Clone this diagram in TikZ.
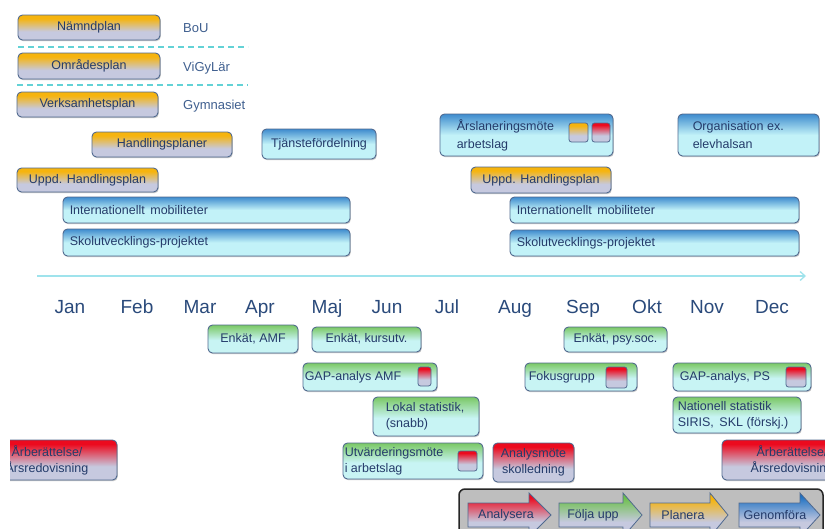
\documentclass[tikz,border=0pt]{standalone}
\usepackage{fontspec}
\setmainfont{Liberation Sans}
\usetikzlibrary{shadows,arrows.meta}
\definecolor{orng}{HTML}{F6B40E}
\definecolor{lav}{HTML}{C6C9DF}
\definecolor{blu}{HTML}{1A6FC2}
\definecolor{cyn}{HTML}{C2F2F8}
\definecolor{grn}{HTML}{6CC04A}
\definecolor{cyg}{HTML}{C8F4F4}
\definecolor{rd}{HTML}{EC0A1E}
\definecolor{bd}{HTML}{50698F}
\definecolor{tx}{HTML}{243B6A}
\definecolor{mtx}{HTML}{2A4A7B}
\definecolor{stx}{HTML}{3F5F8F}
\definecolor{dsh}{HTML}{63D2D6}
\definecolor{tline}{HTML}{9FE3EC}
\definecolor{leggray}{HTML}{BEBEBE}
\pgfdeclareverticalshading{shO}{100bp}{color(0bp)=(lav); color(42bp)=(lav); color(68bp)=(orng); color(100bp)=(orng)}
\pgfdeclareverticalshading{shB}{100bp}{color(0bp)=(cyn); color(50bp)=(cyn); color(82bp)=(blu); color(100bp)=(blu)}
\pgfdeclareverticalshading{shG}{100bp}{color(0bp)=(cyg); color(48bp)=(cyg); color(80bp)=(grn); color(100bp)=(grn)}
\pgfdeclareverticalshading{shR}{100bp}{color(0bp)=(lav); color(42bp)=(lav); color(70bp)=(rd); color(100bp)=(rd)}
\pgfdeclareverticalshading{shGL}{100bp}{color(0bp)=(lav); color(42bp)=(lav); color(70bp)=(grn); color(100bp)=(grn)}
\pgfdeclareverticalshading{shBL}{100bp}{color(0bp)=(lav); color(42bp)=(lav); color(72bp)=(blu); color(100bp)=(blu)}
\newcommand\fs{\fontsize{12.5}{16}\selectfont}
\newcommand\bx[8][]{\node[#2, minimum width={(#6)-(#4)}, minimum height={(#7)-(#5)}, #1] (#3) at ({((#4)+(#6))/2},{((#5)+(#7))/2}) {#8};}
\newcommand\larr[5]{\shade[legarr, shading=#4] (#5-a) -- (#2,503) -- (#2,493) -- (#3,515) -- (#2,537) -- (#2,527) -- (#1,527) -- cycle;}
\begin{document}
\begin{tikzpicture}[x=1pt,y=-1pt,
  box/.style={rounded corners=4.5pt, draw=bd, line width=0.9pt, shade, font=\fs, text=tx, inner sep=0pt, align=center,
     drop shadow={shadow xshift=0.8pt, shadow yshift=-1.2pt, opacity=0.3, fill=black!70}},
  obox/.style={box, shading=shO},
  bbox/.style={box, shading=shB},
  gbox/.style={box, shading=shG},
  rbox/.style={box, shading=shR},
  sq/.style={rounded corners=2.5pt, draw=bd, line width=0.8pt, shade, inner sep=0pt},
  txt/.style={font=\fs, text=tx, inner sep=0pt, align=left, anchor=west},
  side/.style={font=\fontsize{13}{15}\selectfont, text=stx, inner sep=0pt, anchor=base west},
  mon/.style={font=\fontsize{19}{22}\selectfont, text=mtx, inner sep=0pt, anchor=base},
  dashln/.style={draw=dsh, line width=1.6pt, dash pattern=on 6pt off 4pt},
  legarr/.style={draw=bd, line width=0.8pt},
  legtxt/.style={font=\fs, text=tx, inner sep=0pt}]
\useasboundingbox (0,0) rectangle (825,528);
\fill[white] (0,0) rectangle (825,528);

% top planning boxes
\bx{obox}{namnd}{18}{15}{160}{40}{Nämndplan}
\bx{obox}{omrade}{18}{53}{160}{79}{Områdesplan}
\bx{obox}{verks}{17}{92}{158}{117}{Verksamhetsplan}
\bx{obox}{handl}{92}{132}{232}{157}{Handlingsplaner}
\bx{obox}{uppd1}{17}{168}{158}{192}{Uppd. Handlingsplan}
\node[side] (bou) at (183,32) {BoU};
\node[side] (vigy) at (183,71) {ViGyLär};
\node[side] (gymn) at (183,109) {Gymnasiet};
\coordinate (d1a) at (18,47); \coordinate (d1b) at (248,47);
\coordinate (d2a) at (17,85); \coordinate (d2b) at (248,85);
\draw[dashln] (d1a) -- (d1b);
\draw[dashln] (d2a) -- (d2b);

\bx{bbox}{tjanst}{262}{129}{376}{159}{Tjänstefördelning}
\bx{bbox}{intl1}{63}{197}{350}{223}{}
\node[txt] (intl1t) at ([xshift=7pt]intl1.west) {Internationellt\, mobiliteter};
\bx{bbox}{skol1}{63}{229}{350}{256}{}
\node[txt] (skol1t) at ([xshift=7pt]skol1.west) {Skolutvecklings-projektet};

\bx{bbox}{arsl}{440}{114}{613}{156}{}
\node[txt, font=\fontsize{12.5}{18}\selectfont] (arslt) at ([xshift=17pt]arsl.west) {Årslaneringsmöte\\arbetslag};
\bx[shading=shO]{sq}{arslo}{569}{123}{588}{142}{}
\bx[shading=shR]{sq}{arslr}{592}{123}{610}{142}{}
\bx{bbox}{org}{678}{114}{819}{156}{}
\node[txt, font=\fontsize{12.5}{18}\selectfont] (orgt) at ([xshift=15pt]org.west) {Organisation ex.\\elevhalsan};
\bx{obox}{uppd2}{471}{167}{611}{193}{Uppd. Handlingsplan}
\bx{bbox}{intl2}{510}{197}{799}{223}{}
\node[txt] (intl2t) at ([xshift=7pt]intl2.west) {Internationellt\, mobiliteter};
\bx{bbox}{skol2}{510}{230}{799}{256}{}
\node[txt] (skol2t) at ([xshift=7pt]skol2.west) {Skolutvecklings-projektet};

% timeline
\coordinate (tls) at (37,276); \coordinate (tle) at (806,276);
\draw[draw=tline, line width=1.3pt, -{Straight Barb[length=5pt,width=9pt]}] (tls) -- (tle);
\node[mon] (jan) at (70,313) {Jan};
\node[mon] (feb) at (137,313) {Feb};
\node[mon] (mar) at (200,313) {Mar};
\node[mon] (apr) at (260,313) {Apr};
\node[mon] (maj) at (327,313) {Maj};
\node[mon] (jun) at (387,313) {Jun};
\node[mon] (jul) at (447,313) {Jul};
\node[mon] (aug) at (515,313) {Aug};
\node[mon] (sep) at (583,313) {Sep};
\node[mon] (okt) at (647,313) {Okt};
\node[mon] (nov) at (707,313) {Nov};
\node[mon] (dec) at (772,313) {Dec};

% follow-up boxes
\bx{gbox}{enkamf}{208}{325}{298}{353}{Enkät, AMF}
\bx{gbox}{enkkurs}{312}{327}{421}{352}{\raisebox{3pt}{Enkät, kursutv.}}
\bx{gbox}{gapamf}{303}{363}{437}{391}{}
\node[txt] (gapamft) at ([xshift=2pt]gapamf.west) {GAP-analys AMF};
\bx[shading=shR]{sq}{gapamfs}{418}{367}{431}{386}{}
\bx{gbox}{lokal}{373}{397}{479}{436}{}
\node[txt] (lokalt) at ([xshift=13pt]lokal.west) {Lokal statistik,\\(snabb)};
\bx{gbox}{utv}{343}{443}{483}{479}{}
\node[txt] (utvt) at ([xshift=2pt]utv.west) {Utvärderingsmöte\\i arbetslag};
\bx[shading=shR]{sq}{utvs}{458}{451}{477}{471}{}
\bx{rbox}{analys}{493}{443}{574}{482}{Analysmöte\\skolledning}
\bx{gbox}{enkpsy}{564}{327}{667}{352}{Enkät, psy.soc.}
\bx{gbox}{fokus}{525}{363}{637}{391}{}
\node[txt] (fokust) at ([xshift=4pt]fokus.west) {Fokusgrupp};
\bx[shading=shR]{sq}{fokuss}{606}{367}{627}{388}{}
\bx{gbox}{gapps}{673}{363}{811}{391}{}
\node[txt] (gappst) at ([xshift=7pt]gapps.west) {GAP-analys, PS};
\bx[shading=shR]{sq}{gappss}{786}{367}{806}{387}{}
\bx{gbox}{natstat}{673}{397}{801}{433}{}
\node[txt] (natstatt) at ([xshift=5pt]natstat.west) {Nationell statistik\\SIRIS,\, SKL (förskj.)};

% annual reports
\begin{scope}
\clip (10,430) rectangle (140,495);
\bx{rbox}{arb1}{-23}{440}{117}{480}{Årberättelse/\\Årsredovisning}
\end{scope}
\bx{rbox}{arb2}{722}{440}{862}{480}{Årberättelse/\\Årsredovisning}

% legend
\bx[shade=false, fill=leggray, draw=black!85, line width=1.5pt, rounded corners=6pt]{box}{leg}{459}{489}{823}{548}{}
\coordinate (la-a) at (468,503);
\coordinate (lb-a) at (559,503);
\coordinate (lc-a) at (650,503);
\coordinate (ld-a) at (739,503);
\larr{468}{529}{551}{shR}{la}
\larr{559}{623}{642}{shGL}{lb}
\larr{650}{710}{728}{shO}{lc}
\larr{739}{800}{820}{shBL}{ld}
\node[legtxt] (lat) at (506,515) {Analysera};
\node[legtxt] (lbt) at (593,515) {Följa upp};
\node[legtxt] (lct) at (683,515) {Planera};
\node[legtxt] (ldt) at (775,515) {Genomföra};
\end{tikzpicture}
\end{document}
